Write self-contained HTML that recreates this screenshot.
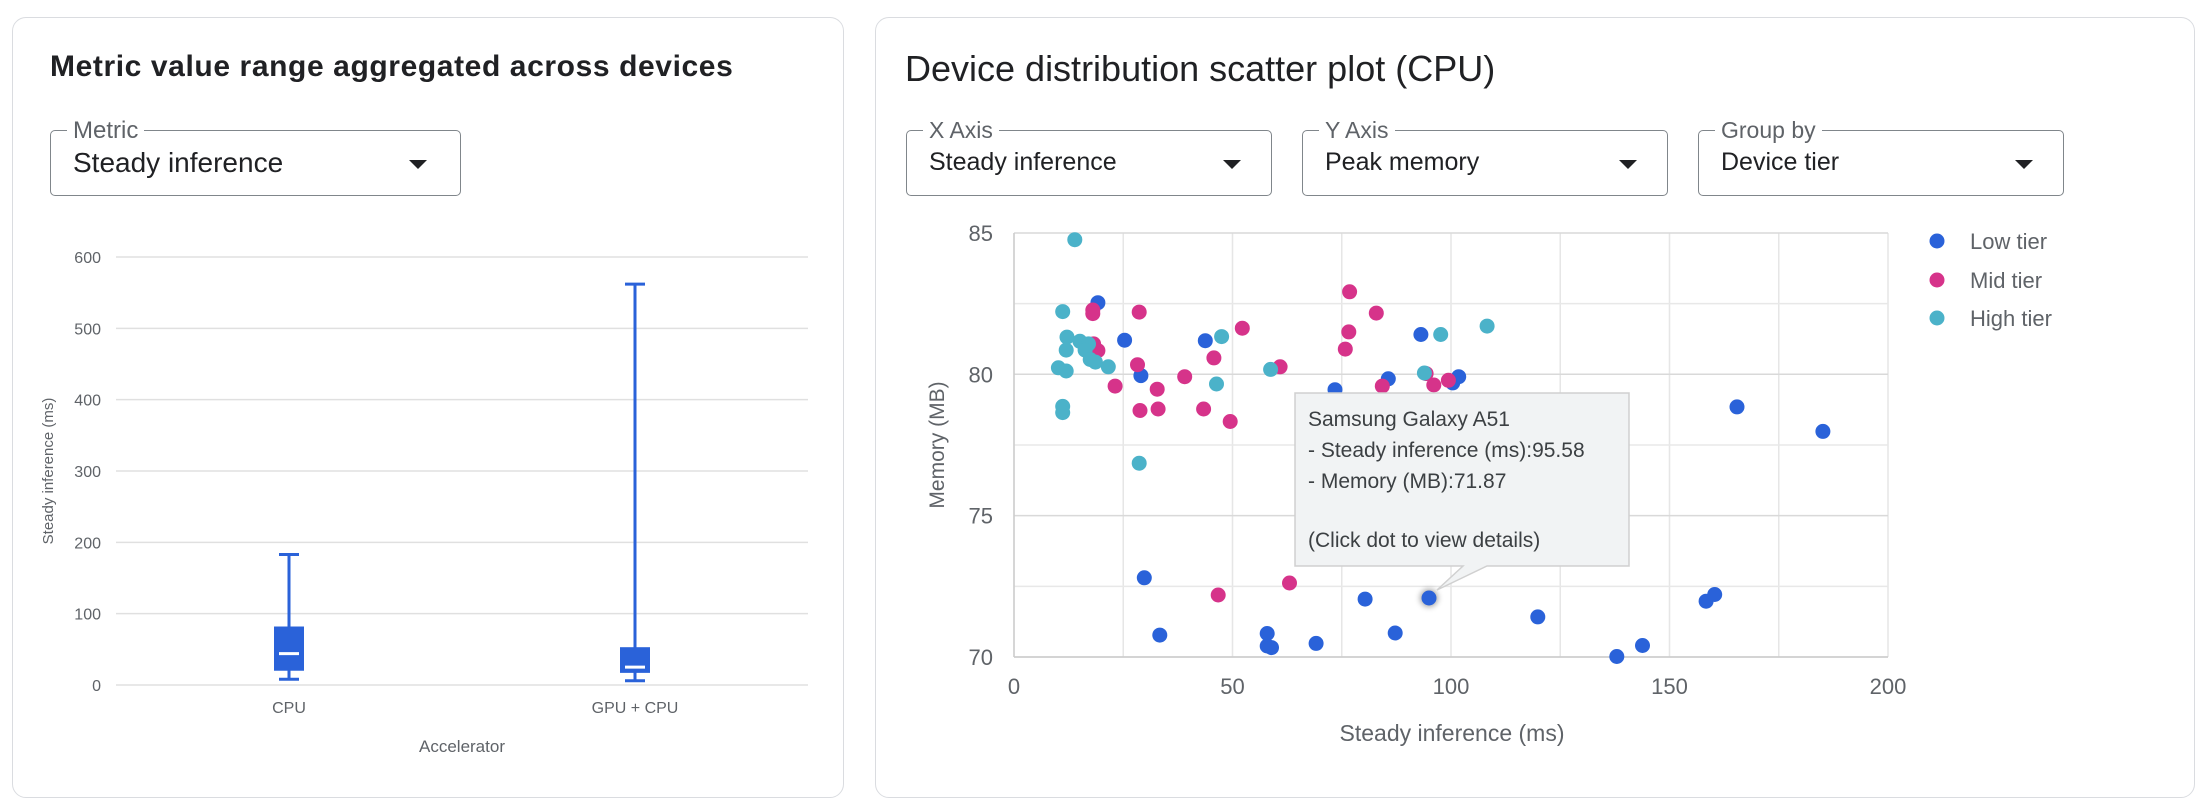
<!DOCTYPE html>
<html><head><meta charset="utf-8">
<style>
body{margin:0;width:2200px;height:808px;background:#fff;font-family:"Liberation Sans",Arial,sans-serif;position:relative;overflow:hidden}
.card{position:absolute;border:1.5px solid #dadce0;border-radius:14px;background:#fff}
.title{position:absolute;color:#202124;white-space:nowrap}
.dd{position:absolute;border:1.5px solid #80868b;border-radius:5px;height:64px}
.dd .lab{position:absolute;top:-14px;left:16px;background:#fff;padding:0 6px;font-size:23px;color:#5f6368}
.dd .val{position:absolute;left:22px;top:17px;font-size:25px;color:#202124}
.dd .arr{position:absolute;top:29px;width:0;height:0;border-left:9px solid transparent;border-right:9px solid transparent;border-top:9px solid #202124}
svg{position:absolute;left:0;top:0}
</style></head><body>
<div class="card" style="left:12px;top:17px;width:830px;height:779px"></div>
<div class="card" style="left:875px;top:17px;width:1318px;height:779px"></div>
<div class="title" style="left:50px;top:50px;font-weight:bold;font-size:30px;letter-spacing:0.6px">Metric value range aggregated across devices</div>
<div class="title" style="left:905px;top:48px;font-size:36px">Device distribution scatter plot (CPU)</div>
<div class="dd" style="left:50px;top:130px;width:409px"><span class="lab" style="font-size:24px">Metric</span><span class="val" style="font-size:28px;top:16px">Steady inference</span><span class="arr" style="left:358px"></span></div>
<div class="dd" style="left:906px;top:130px;width:364px"><span class="lab">X Axis</span><span class="val">Steady inference</span><span class="arr" style="left:316px"></span></div>
<div class="dd" style="left:1302px;top:130px;width:364px"><span class="lab">Y Axis</span><span class="val">Peak memory</span><span class="arr" style="left:316px"></span></div>
<div class="dd" style="left:1698px;top:130px;width:364px"><span class="lab">Group by</span><span class="val">Device tier</span><span class="arr" style="left:316px"></span></div>
<svg id="s" width="2200" height="808" font-family="Liberation Sans, Arial, sans-serif"></svg>
<script>
var s=document.getElementById('s'),h='';
for(var v=0;v<=600;v+=100){var y=685-v*0.7133;h+='<line x1="116" x2="808" y1="'+y+'" y2="'+y+'" stroke="#e0e0e0" stroke-width="1.5"/><text x="101" y="'+(y+6)+'" font-size="16" fill="#5f6368" text-anchor="end">'+v+'</text>';}
function Y(v){return 685-v*0.7133}
function box(cx,mn,q1,md,q3,mx){var c='#2a62d9';
h+='<line x1="'+cx+'" x2="'+cx+'" y1="'+Y(mx)+'" y2="'+Y(mn)+'" stroke="'+c+'" stroke-width="3"/>';
h+='<line x1="'+(cx-10)+'" x2="'+(cx+10)+'" y1="'+Y(mx)+'" y2="'+Y(mx)+'" stroke="'+c+'" stroke-width="3"/>';
h+='<line x1="'+(cx-10)+'" x2="'+(cx+10)+'" y1="'+Y(mn)+'" y2="'+Y(mn)+'" stroke="'+c+'" stroke-width="3"/>';
h+='<rect x="'+(cx-15)+'" y="'+Y(q3)+'" width="30" height="'+(Y(q1)-Y(q3))+'" fill="'+c+'"/>';
h+='<line x1="'+(cx-10)+'" x2="'+(cx+10)+'" y1="'+Y(md)+'" y2="'+Y(md)+'" stroke="#fff" stroke-width="3"/>';}
box(289,8,20,44,82,183);box(635,6,17,25,53,562);
h+='<text x="289" y="713" font-size="16" fill="#5f6368" text-anchor="middle">CPU</text><text x="635" y="713" font-size="16" fill="#5f6368" text-anchor="middle">GPU + CPU</text>';
h+='<text x="462" y="752" font-size="17" fill="#5f6368" text-anchor="middle">Accelerator</text>';
h+='<text transform="translate(53,471) rotate(-90)" font-size="15" fill="#5f6368" text-anchor="middle">Steady inference (ms)</text>';
function SX(v){return 1014+v*4.37} function SY(v){return 657-(v-70)*28.27}
for(var i=0;i<=8;i++){var x=SX(i*25);h+='<line x1="'+x+'" x2="'+x+'" y1="233" y2="657" stroke="#e6e6e6" stroke-width="1.5"/>';}
for(var i=0;i<=6;i++){var y=SY(70+i*2.5);h+='<line x1="1014" x2="1888" y1="'+y+'" y2="'+y+'" stroke="'+(i%2==0?'#d9d9d9':'#e8e8e8')+'" stroke-width="1.5"/>';}
h+='<line x1="1014" x2="1014" y1="233" y2="657" stroke="#ccc" stroke-width="1.5"/><line x1="1014" x2="1888" y1="657" y2="657" stroke="#ccc" stroke-width="1.5"/>';
[70,75,80,85].forEach(function(v){h+='<text x="993" y="'+(SY(v)+8)+'" font-size="22" fill="#5f6368" text-anchor="end">'+v+'</text>'});
[0,50,100,150,200].forEach(function(v){h+='<text x="'+SX(v)+'" y="694" font-size="22" fill="#5f6368" text-anchor="middle">'+v+'</text>'});
h+='<text x="1452" y="741" font-size="23" fill="#5f6368" text-anchor="middle">Steady inference (ms)</text>';
h+='<text transform="translate(944,445) rotate(-90)" font-size="21" fill="#5f6368" text-anchor="middle">Memory (MB)</text>';
function P(zx,zy){return [860+zx*0.859, zy*0.521]}
var low=[[277,581],[308,653],[327,721],[402,654],[653,642],[615,727],[690,735],[697,723],[553,748],[1021,781],[1121,828],[331,1109],[349,1219],[474,1216],[474,1240],[479,1243],[531,1235],[588,1150],[623,1215],[789,1184],[881,1260],[911,1239],[985,1154],[995,1141]];
var mid=[[271,595],[271,602],[272,660],[277,673],[325,599],[323,700],[297,741],[326,788],[346,747],[347,785],[378,723],[400,785],[412,687],[431,809],[445,630],[489,704],[570,560],[569,637],[565,670],[601,601],[608,741],[659,717],[668,739],[685,730],[417,1142],[500,1119]];
var high=[[250,460],[236,598],[241,647],[256,655],[266,660],[240,672],[262,672],[268,690],[274,695],[231,706],[240,712],[289,704],[236,780],[236,792],[325,889],[421,646],[415,737],[478,709],[676,642],[730,626],[657,716]];
function dots(a,c){a.forEach(function(p){var q=P(p[0],p[1]);h+='<circle cx="'+q[0].toFixed(1)+'" cy="'+q[1].toFixed(1)+'" r="7.5" fill="'+c+'"/>'})}
dots(low,'#2a62d9');dots(mid,'#d6338a');dots(high,'#4bb2c9');
h+='<defs><filter id="f" x="-1" y="-1" width="3" height="3"><feGaussianBlur stdDeviation="3"/></filter></defs>';
h+='<circle cx="1429" cy="598" r="9" fill="#000" opacity="0.35" filter="url(#f)"/><circle cx="1429" cy="598" r="7.5" fill="#2a62d9"/>';
[['Low tier','#2a62d9',241],['Mid tier','#d6338a',280],['High tier','#4bb2c9',318]].forEach(function(l){h+='<circle cx="1937" cy="'+l[2]+'" r="7.5" fill="'+l[1]+'"/><text x="1970" y="'+(l[2]+8)+'" font-size="22" fill="#5f6368">'+l[0]+'</text>'});
h+='<path d="M1295,393 H1629 V566 H1487 L1437,590 L1463,566 H1295 Z" fill="#f1f3f4" stroke="#d0d0d0" stroke-width="1.5"/>';
[['Samsung Galaxy A51',426],['- Steady inference (ms):95.58',457],['- Memory (MB):71.87',488],['(Click dot to view details)',547]].forEach(function(t){h+='<text x="1308" y="'+t[1]+'" font-size="21" fill="#3c4043">'+t[0]+'</text>'});
s.innerHTML=h;
</script>
</body></html>
